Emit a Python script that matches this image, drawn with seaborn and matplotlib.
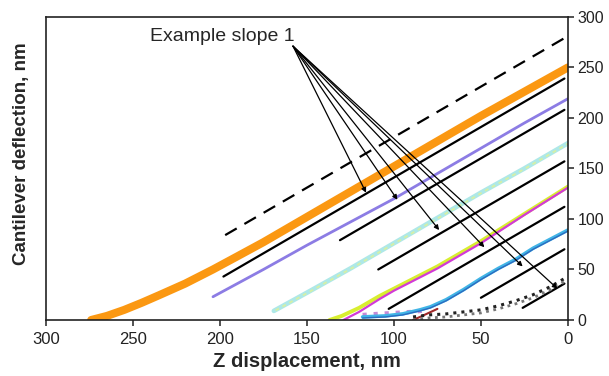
import numpy as np
import pandas as pd
import seaborn as sns
import matplotlib.pyplot as plt

# measured curves (Z displacement, deflection), nm
orange_x = [274, 265, 255, 245, 235, 220, 204, 190, 175, 150, 125, 100, 75, 50, 25, 0]
orange_y = [0, 4, 10, 17, 24.5, 36, 50, 63, 77, 102, 127, 152, 177, 202, 226, 250]

purple_x = [204, 175, 150, 125, 100, 75, 50, 25, 0]
purple_y = [23, 50, 74, 97, 120, 145, 170, 195, 219]

cyan_x = [169, 150, 125, 100, 75, 50, 25, 0]
cyan_y = [9, 27, 51, 76, 101, 126, 150, 175]

yellow_x = [137, 130, 120, 108, 100, 75, 50, 25, 0]
yellow_y = [0, 4, 12, 24, 31, 53, 78, 105, 132]

magenta_x = [129, 120, 108, 100, 75, 50, 25, 0]
magenta_y = [0, 8, 21, 29, 51, 76, 104, 131]

pink_x = [118, 110, 100, 90, 84]
pink_y = [5, 6, 7, 8, 9]

red_x = [89, 85, 80, 75]
red_y = [0, 3, 7, 11]

blue_x = [118, 105, 95, 85, 79, 70, 60, 50, 40, 30, 20, 10, 0]
blue_y = [3, 4, 6, 10, 13, 20, 30, 41, 51, 60, 71, 80, 89]

dot_x = [89, 80, 70, 60, 50, 40, 30, 20, 10, 0]
dot_y = [3, 5, 6, 8, 10, 14, 19, 25, 33, 43]

# slope-1 reference lines: start (x0, y0) to end x1
slope_x0 = [198, 131, 109, 103, 50, 26]
slope_y0 = [43, 79, 50, 11, 22, 12]
slope_x1 = [2, 2, 2, 2, 2, 2]
dash_x0, dash_y0, dash_x1 = 197, 84, 0

# annotation arrows
label_text = "Example slope 1"
arrow_tail = (158, 271)
arrow_hx = [116, 98, 74, 48, 26, 6]
arrow_hy = [126, 119, 89, 72, 53, 31]

sns.set_style("ticks")
plt.rcParams['font.family'] = ['Liberation Sans', 'DejaVu Sans']

fig = plt.figure(figsize=(6.09, 3.76), dpi=100)
ax = fig.add_axes([0.0755, 0.149, 0.857, 0.806])


def curve(x, y, color, lw, ls="-", alpha=1.0):
    df = pd.DataFrame({"z": x, "d": y})
    sns.lineplot(data=df, x="z", y="d", sort=False, color=color, lw=lw,
                 ls=ls, alpha=alpha, ax=ax, solid_capstyle="round")


# slope lines
for x0, y0, x1 in zip(slope_x0, slope_y0, slope_x1):
    curve([x0, x1], [y0, y0 + (x0 - x1)], "black", 1.6)
curve([dash_x0, dash_x1], [dash_y0, dash_y0 + (dash_x0 - dash_x1)],
      "black", 1.6, ls=(0, (6, 4)))

curve(orange_x, orange_y, "#fb9812", 5.8)
curve(purple_x, purple_y, "#8c7ce4", 2.0)
curve(cyan_x, cyan_y, "#aee8e8", 3.4)
curve([x - 1 for x in cyan_x], [y + 0.5 for y in cyan_y], "#d4f0a8", 1.4,
      ls=(0, (2, 2)))
curve(yellow_x, yellow_y, "#d8ee30", 2.8)
curve(magenta_x, magenta_y, "#d23ad6", 1.6)
curve(pink_x, pink_y, "#c48ad6", 3.0, ls=":")
curve(red_x, red_y, "#a02828", 1.5)
curve(blue_x, blue_y, "#40b4e6", 2.6)
curve(blue_x, [y - 1 for y in blue_y], "#2c6cc0", 1.0)
curve(dot_x, dot_y, "#222222", 2.2, ls=":")
curve(dot_x, [y - 3 for y in dot_y], "#777777", 2.0, ls=":")

for hx, hy in zip(arrow_hx, arrow_hy):
    ax.annotate("", xy=(hx, hy), xytext=arrow_tail,
                arrowprops=dict(arrowstyle="-|>", color="black", lw=0.9,
                                mutation_scale=7, shrinkA=0, shrinkB=0))
ax.text(240, 281, label_text, ha="left", va="center", fontsize=14)

ax.set_xlim(300, 0)
ax.set_ylim(0, 300)
ax.set_xticks(np.arange(300, -1, -50))
ax.set_yticks(np.arange(0, 301, 50))
ax.yaxis.tick_right()
ax.yaxis.set_label_position("left")
ax.tick_params(axis="x", labelsize=12, length=4, width=1.1, pad=5,
               colors="#222222")
ax.tick_params(axis="y", labelsize=11.5, length=4, width=1.1, pad=3,
               colors="#222222")
for sp in ax.spines.values():
    sp.set_visible(True)
    sp.set_color("#222222")
    sp.set_linewidth(1.2)

ax.set_xlabel("Z displacement, nm", fontsize=14.5, fontweight="bold")
ax.set_ylabel("Cantilever deflection, nm", fontsize=13.5, fontweight="bold")
ax.xaxis.set_label_coords(0.5, -0.105)
ax.yaxis.set_label_coords(-0.03, 0.55)

fig.savefig("out.png", dpi=100)
